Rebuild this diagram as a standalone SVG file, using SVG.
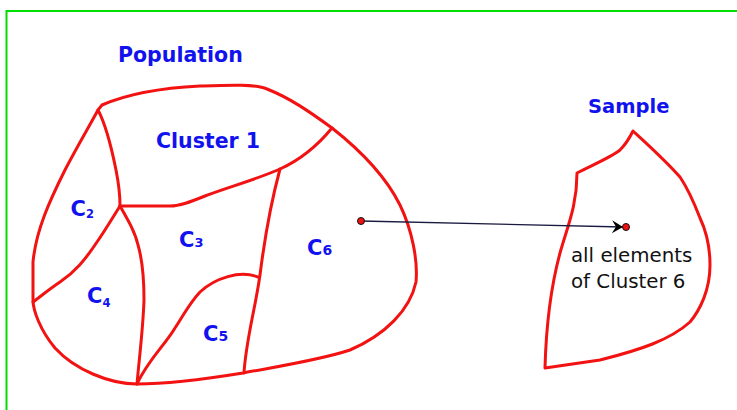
<svg xmlns="http://www.w3.org/2000/svg" width="737" height="410" viewBox="0 0 737 410">
<style>
.red{fill:none;stroke:#f21212;stroke-width:3;stroke-linejoin:round;stroke-linecap:round}
.lbl{font-family:"DejaVu Sans","Liberation Sans",sans-serif;font-weight:bold;fill:#1212ee}
.txt{font-family:"DejaVu Sans","Liberation Sans",sans-serif;fill:#111;font-size:19.8px}
.dot{fill:#ee1111;stroke:#111;stroke-width:1}
</style>
<defs>
<marker id="arr" viewBox="-12 -7 13 14" markerWidth="13" markerHeight="14" refX="0" refY="0" orient="auto" markerUnits="userSpaceOnUse">
<path d="M0,0 L-11,-6.5 L-7,0 L-11,6.5 Z" fill="#000"/>
</marker>
</defs>
<rect x="6.5" y="11" width="800" height="500" fill="none" stroke="#00dd00" stroke-width="2"/>

<g id="population">
<path class="red" d="M98,110 L102,105 C125,95 160,88 200,86 C230,85 255,84 267,89 C290,98 310,112 332,128 C360,150 385,175 400,205 C412,230 418,260 416,282 C410,310 385,335 350,350 C320,360 280,366 243,373 C200,380 160,384 137,384 C110,384 75,370 55,348 C40,330 33,310 33,300 L33,262 C36,230 50,200 65,170 C78,145 90,125 98,110 Z"/>
<path class="red" d="M332,128 C318,145 300,160 280,169 C255,180 225,188 205,196 C190,202 180,206 170,206 L120,206"/>
<path class="red" d="M98,110 C106,125 112,150 116,170 C119,185 120,195 120,206"/>
<path class="red" d="M120,206 C110,222 104,232 97,242 C85,260 75,272 60,282 C48,290 40,297 33,302"/>
<path class="red" d="M120,206 C128,220 135,232 138,245 C143,262 144,280 144,300 C143,330 139,360 137,384"/>
<path class="red" d="M280,169 C273,195 265,235 260,275 C255,310 246,340 244,373"/>
<path class="red" d="M258,277 C240,270 215,278 200,292 C188,305 182,318 175,328 C165,345 148,360 137,384"/>
</g>

<g id="sample">
<path class="red" d="M633,131 C645,142 665,160 680,177 C690,192 695,205 700,218 C708,235 710,250 710,265 C710,290 700,310 690,322 C670,340 640,350 600,360 L545,368 C546,330 550,290 560,253 C568,225 577,205 577,173 C590,166 610,158 620,150 C627,143 630,137 633,131 Z"/>
</g>

<g id="label-population"><text class="lbl" x="118" y="62" font-size="20.5">Population</text></g>
<g id="label-sample"><text class="lbl" x="588" y="113" font-size="19.5">Sample</text></g>
<g id="cluster1"><text class="lbl" x="156" y="148" font-size="20.5">Cluster 1</text></g>
<g id="c2"><text class="lbl" x="70.5" y="216" font-size="21">C<tspan dy="2" font-size="11.5">2</tspan></text></g>
<g id="c3"><text class="lbl" x="179" y="247" font-size="21">C<tspan font-size="13">3</tspan></text></g>
<g id="c4"><text class="lbl" x="87" y="303" font-size="21">C<tspan dy="4" font-size="11.5">4</tspan></text></g>
<g id="c5"><text class="lbl" x="203" y="341" font-size="21">C<tspan font-size="14">5</tspan></text></g>
<g id="c6"><text class="lbl" x="307" y="255" font-size="21">C<tspan font-size="14">6</tspan></text></g>

<g id="elements">
<text class="txt" x="571" y="262">all elements</text>
<text class="txt" x="571" y="288">of Cluster 6</text>
</g>

<g id="connectors">
<line x1="361" y1="221" x2="623" y2="227" stroke="#1a1a40" stroke-width="1.3" marker-end="url(#arr)"/>
<circle class="dot" cx="361" cy="221" r="3.5"/>
<circle class="dot" cx="626" cy="227" r="3.5"/>
</g>
</svg>
